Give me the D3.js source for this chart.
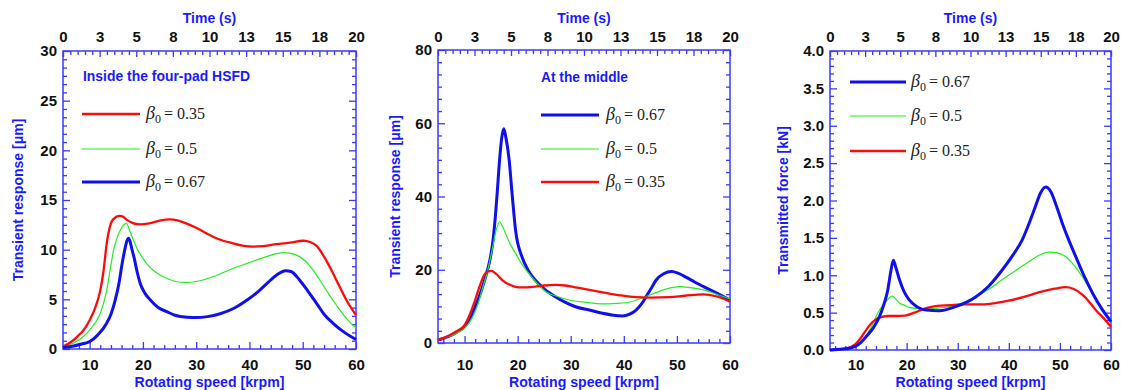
<!DOCTYPE html>
<html>
<head>
<meta charset="utf-8">
<script src="https://cdn.jsdelivr.net/npm/d3@7/dist/d3.min.js"></script>
<style>
  body { margin: 0; background: #fff; }
  svg text { font-family: "Liberation Sans", Arial, sans-serif; }
  .tick text { font-weight: bold; font-size: 15px; fill: #111; }
  .axisTitle { font-weight: bold; fill: #1a1aff; }
  .legendText { font-family: "Liberation Serif", "Times New Roman", serif; font-size: 16px; fill: #222; }
</style>
</head>
<body>
<svg id="chart" width="1121" height="390"></svg>
<script>
// shared axis values
const speedMajor = [10, 20, 30, 40, 50, 60];
const speedMinor = [6, 8, 12, 14, 16, 18, 22, 24, 26, 28, 32, 34, 36, 38, 42, 44, 46, 48, 52, 54, 56, 58];
const timeTicks = [0, 2.5, 5, 7.5, 10, 12.5, 15, 17.5, 20];
const timeLabels = ["0", "3", "5", "8", "10", "13", "15", "18", "20"];

// panel 1 : inside the four-pad HSFD (um)
const p1Red = [[5,0.25],[6.5,0.7],[7.6,1.2],[9,2.0],[10,2.9],[11,4.1],[12,5.9],[12.6,7.8],[13.2,10.6],[13.8,12.3],[14.5,13.1],[15.6,13.4],[16.3,13.3],[17,13.0],[18,12.7],[19.4,12.55],[21.2,12.65],[23,12.9],[25,13.05],[26.5,12.95],[28.1,12.65],[30,12.2],[31.9,11.65],[34,11.1],[36.9,10.64],[38.7,10.4],[40.7,10.3],[42.5,10.35],[44.4,10.5],[47.6,10.7],[50.1,10.9],[51.5,10.75],[52.6,10.38],[54,9.3],[55.7,7.6],[57,6.2],[58.2,4.93],[60,3.4]];
const p1Green = [[5,0.2],[7,0.6],[8.5,1.1],[10,1.9],[11,2.6],[12,3.6],[12.6,4.6],[13.2,5.9],[13.8,7.8],[14.5,9.97],[15.3,11.4],[16.1,12.3],[16.9,12.65],[17.6,11.8],[18.2,11],[18.9,10.1],[19.8,9.3],[20.7,8.6],[22,7.9],[23.2,7.45],[25,7.0],[27,6.72],[28.5,6.7],[30.7,6.87],[33,7.25],[36.9,8.1],[40,8.7],[43.2,9.3],[46.3,9.7],[47.5,9.65],[49.4,9.3],[51.3,8.4],[53.2,6.95],[54.8,5.6],[56.3,4.43],[58,3.2],[60,2.1]];
const p1Blue = [[5,0.12],[7,0.3],[8.5,0.5],[10,0.74],[11.5,1.4],[13.2,2.6],[14,3.5],[14.8,4.93],[15.5,6.6],[16.1,8.6],[16.6,10],[17,10.9],[17.3,11.15],[17.6,10.8],[18,9.9],[18.3,9.3],[18.9,7.8],[19.5,6.6],[20.4,5.6],[21.4,4.93],[22.8,4.2],[24.5,3.76],[26,3.4],[28.3,3.2],[30,3.17],[32.1,3.26],[34.5,3.55],[37.1,4.1],[39.5,4.9],[41.9,5.9],[43.5,6.7],[45.1,7.45],[46.8,7.88],[47.8,7.8],[49.4,6.95],[51,5.8],[52.6,4.6],[54,3.5],[55.7,2.59],[57.5,1.8],[60,0.95]];

// panel 2 : at the middle (um)
const p2Blue = [[5,0.8],[7,1.8],[8.5,2.9],[10,4.45],[11,6.6],[12,9.9],[12.8,12.8],[13.6,16.3],[14.3,19.8],[14.9,23.6],[15.4,28.5],[15.8,34.5],[16.1,40],[16.6,50],[17,56],[17.4,58.5],[17.8,56],[18.4,50],[19.0,40],[19.6,30.9],[20.8,23.6],[22,19.8],[23.3,17.2],[25,14.8],[27.1,12.65],[29,11.1],[30.9,9.9],[33.5,9],[36,8.1],[38,7.6],[39.8,7.4],[41,7.8],[42.3,9.0],[43.3,10.6],[44.2,12.65],[45.2,15.0],[46.1,17.2],[47.5,18.9],[49,19.5],[50.3,19],[51.8,17.9],[53.4,16.6],[55,15.4],[57.5,13.6],[60,11.75]];
const p2Green = [[5,0.8],[7,1.7],[8.5,2.7],[10,4.0],[11.5,7],[12.5,10.5],[13.3,14.5],[14.3,19.5],[15.2,25.4],[15.9,30.5],[16.6,33.1],[17.1,32],[17.7,30],[18.6,27],[19.6,24.5],[20.8,21.5],[22.1,19],[23.7,16.3],[25.3,14],[27.5,12.7],[29.7,11.75],[33,11.1],[36,10.66],[38.5,10.8],[41.1,11.2],[43,12],[44.9,13.1],[47,14.3],[49,15.1],[50.6,15.4],[52.5,15.1],[55,14.5],[57.5,13.3],[60,12]];
const p2Red = [[5,0.8],[7,2],[8.5,3.2],[10,4.9],[11,7.8],[12,11.75],[12.8,15.3],[13.6,18.3],[14.3,19.5],[15.1,19.7],[16,18.8],[17.1,17.2],[18.5,15.9],[20.2,15.2],[21.8,15.2],[23.3,15.4],[25,15.7],[27.1,15.85],[29,15.7],[30.9,15.2],[33.5,14.5],[36,13.85],[39,13.1],[42.3,12.5],[45,12.4],[48.6,12.5],[51.5,12.9],[55,13.3],[57.5,12.7],[60,11.3]];

// panel 3 : transmitted force (kN)
const p3Blue = [[5,0],[7,0.01],[8.5,0.02],[10,0.05],[11,0.1],[12.1,0.18],[13.5,0.3],[14.7,0.45],[15.5,0.6],[16.3,0.8],[16.9,1.05],[17.4,1.2],[17.9,1.1],[18.6,0.94],[19.5,0.78],[20.5,0.67],[22,0.58],[23.8,0.535],[26.4,0.525],[29.6,0.58],[33.5,0.71],[36,0.85],[38.7,1.07],[40.8,1.27],[42.6,1.47],[44,1.7],[45.2,1.92],[46.2,2.1],[47.2,2.18],[48.2,2.12],[49.3,1.93],[50.5,1.69],[51.8,1.46],[53.1,1.25],[54.8,0.98],[56.4,0.76],[58.2,0.55],[60,0.38]];
const p3Green = [[5,0],[8.5,0.02],[10,0.05],[11.5,0.13],[13,0.3],[14.7,0.535],[15.4,0.6],[16,0.65],[16.6,0.7],[17.2,0.72],[17.9,0.68],[18.6,0.63],[19.5,0.6],[20.5,0.57],[22,0.555],[23.8,0.55],[26,0.56],[28.4,0.58],[31,0.63],[33.5,0.71],[36,0.81],[38.7,0.94],[41.3,1.06],[43.9,1.18],[46,1.27],[47.8,1.31],[49.5,1.3],[51.1,1.25],[52.8,1.13],[54.4,0.98],[56.5,0.74],[58.3,0.55],[60,0.4]];
const p3Red = [[5,0],[8,0.02],[10,0.08],[11,0.16],[12.1,0.27],[13,0.35],[14,0.41],[15,0.44],[16.5,0.455],[18,0.455],[19.7,0.46],[21.5,0.5],[23.8,0.56],[26,0.59],[28.4,0.6],[31,0.61],[34.9,0.61],[37.5,0.63],[40,0.66],[43,0.71],[46.4,0.78],[49,0.82],[51.1,0.84],[52.6,0.82],[54.4,0.74],[55.8,0.64],[57,0.535],[58.5,0.43],[60,0.31]];

const RED = "#ff0a0a", GREEN = "#22ee22", BLUE = "#1010ee", FRAME = "#3a3aff";

const panels = [
  {
    left: 63, right: 356, top: 51, bottom: 349, yMax: 30, yStep: 5, ySub: 6, yFmt: "d",
    yTitle: "Transient response [\u03bcm]", yTitleX: 18,
    title: "Inside the four-pad HSFD", titleX: 83, titleY: 81, titleLen: 167,
    series: [
      { data: p1Green, color: GREEN, width: 1.2 },
      { data: p1Red, color: RED, width: 2.3 },
      { data: p1Blue, color: BLUE, width: 3 },
    ],
    legend: { x1: 82, x2: 140, tx: 146, items: [
      { label: "0.35", color: RED, width: 2.3, y: 114 },
      { label: "0.5", color: GREEN, width: 1.2, y: 149 },
      { label: "0.67", color: BLUE, width: 3, y: 182 },
    ] },
  },
  {
    left: 438, right: 730, top: 50, bottom: 343, yMax: 80, yStep: 20, ySub: 6, yFmt: "d",
    yTitle: "Transient response  [\u03bcm]", yTitleX: 395,
    title: "At the middle", titleX: 541, titleY: 82, titleLen: 87,
    series: [
      { data: p2Blue, color: BLUE, width: 3 },
      { data: p2Green, color: GREEN, width: 1.2 },
      { data: p2Red, color: RED, width: 2.3 },
    ],
    legend: { x1: 541, x2: 599, tx: 606, items: [
      { label: "0.67", color: BLUE, width: 3, y: 115 },
      { label: "0.5", color: GREEN, width: 1.2, y: 149 },
      { label: "0.35", color: RED, width: 2.3, y: 182 },
    ] },
  },
  {
    left: 830, right: 1111, top: 51, bottom: 350, yMax: 4, yStep: 0.5, ySub: 5, yFmt: ".1f",
    yTitle: "Transmitted force [kN]", yTitleX: 783,
    title: null,
    series: [
      { data: p3Green, color: GREEN, width: 1.2 },
      { data: p3Red, color: RED, width: 2.3 },
      { data: p3Blue, color: BLUE, width: 3 },
    ],
    legend: { x1: 850, x2: 906, tx: 911, items: [
      { label: "0.67", color: BLUE, width: 3, y: 82 },
      { label: "0.5", color: GREEN, width: 1.2, y: 116 },
      { label: "0.35", color: RED, width: 2.3, y: 151 },
    ] },
  },
];

const svg = d3.select("#chart");

function styleAxis(g) {
  g.select(".domain").remove();
  g.selectAll(".tick line").attr("stroke", FRAME).attr("stroke-width", 1.3);
}

function drawPanel(p) {
  const x = d3.scaleLinear().domain([5, 60]).range([p.left, p.right]);
  const t = d3.scaleLinear().domain([0, 20]).range([p.left, p.right]);
  const y = d3.scaleLinear().domain([0, p.yMax]).range([p.bottom, p.top]);
  const g = svg.append("g");

  const yMajor = d3.range(0, p.yMax + 1e-9, p.yStep);
  const yMinor = d3.range(0, p.yMax + 1e-9, p.yStep / p.ySub)
    .filter(v => Math.abs(v / p.yStep - Math.round(v / p.yStep)) > 1e-6);
  const timeMinor = d3.range(0, 20.01, 0.5).filter(v => !timeTicks.includes(v));

  // bottom
  g.append("g").attr("transform", `translate(0,${p.bottom})`)
    .call(d3.axisBottom(x).tickValues(speedMajor).tickSize(-7).tickPadding(359 - p.bottom).tickFormat(d3.format("d")))
    .call(styleAxis);
  g.append("g").attr("transform", `translate(0,${p.bottom})`)
    .call(d3.axisBottom(x).tickValues(speedMinor).tickSize(-4).tickFormat(""))
    .call(styleAxis);

  // top (time)
  g.append("g").attr("transform", `translate(0,${p.top})`)
    .call(d3.axisTop(t).tickValues(timeTicks).tickSize(-6).tickPadding(p.top - 42)
      .tickFormat((d, i) => timeLabels[i]))
    .call(styleAxis);
  g.append("g").attr("transform", `translate(0,${p.top})`)
    .call(d3.axisTop(t).tickValues(timeMinor).tickSize(-4).tickFormat(""))
    .call(styleAxis);

  // left
  g.append("g").attr("transform", `translate(${p.left},0)`)
    .call(d3.axisLeft(y).tickValues(yMajor).tickSize(-7).tickPadding(6).tickFormat(d3.format(p.yFmt)))
    .call(styleAxis);
  g.append("g").attr("transform", `translate(${p.left},0)`)
    .call(d3.axisLeft(y).tickValues(yMinor).tickSize(-4).tickFormat(""))
    .call(styleAxis);

  // right
  g.append("g").attr("transform", `translate(${p.right},0)`)
    .call(d3.axisRight(y).tickValues(yMajor).tickSize(-7).tickFormat(""))
    .call(styleAxis);
  g.append("g").attr("transform", `translate(${p.right},0)`)
    .call(d3.axisRight(y).tickValues(yMinor).tickSize(-4).tickFormat(""))
    .call(styleAxis);

  g.selectAll(".tick text").attr("font-family", null).attr("font-size", null);

  // frame
  g.append("rect")
    .attr("x", p.left).attr("y", p.top)
    .attr("width", p.right - p.left).attr("height", p.bottom - p.top)
    .attr("fill", "none").attr("stroke", FRAME).attr("stroke-width", 1.5);

  // curves
  const line = d3.line().x(d => x(d[0])).y(d => y(d[1])).curve(d3.curveMonotoneX);
  p.series.forEach(s => {
    g.append("path").datum(s.data)
      .attr("d", line)
      .attr("fill", "none")
      .attr("stroke", s.color)
      .attr("stroke-width", s.width)
      .attr("stroke-linejoin", "round");
  });

  // axis titles
  const cx = (p.left + p.right) / 2;
  g.append("text").attr("class", "axisTitle")
    .attr("x", cx).attr("y", 23).attr("text-anchor", "middle")
    .attr("font-size", 14).text("Time (s)");
  g.append("text").attr("class", "axisTitle")
    .attr("x", cx).attr("y", 387).attr("text-anchor", "middle")
    .attr("font-size", 14).attr("textLength", 150).attr("lengthAdjust", "spacingAndGlyphs")
    .text("Rotating speed [krpm]");
  g.append("text").attr("class", "axisTitle")
    .attr("transform", `translate(${p.yTitleX + 5},${(p.top + p.bottom) / 2}) rotate(-90)`)
    .attr("text-anchor", "middle").attr("font-size", 14)
    .text(p.yTitle);

  if (p.title) {
    g.append("text").attr("class", "axisTitle")
      .attr("x", p.titleX).attr("y", p.titleY)
      .attr("font-size", 15).attr("textLength", p.titleLen).attr("lengthAdjust", "spacingAndGlyphs")
      .text(p.title);
  }

  // legend
  p.legend.items.forEach(it => {
    g.append("line")
      .attr("x1", p.legend.x1).attr("x2", p.legend.x2)
      .attr("y1", it.y).attr("y2", it.y)
      .attr("stroke", it.color).attr("stroke-width", it.width);
    const txt = g.append("text").attr("class", "legendText")
      .attr("x", p.legend.tx).attr("y", it.y + 5);
    txt.append("tspan").attr("font-style", "italic").attr("font-size", 18).text("\u03b2");
    txt.append("tspan").attr("font-size", 12).attr("dy", 4).text("0");
    txt.append("tspan").attr("dy", -4).attr("dx", 3).text("= " + it.label);
  });
}

panels.forEach(drawPanel);
</script>
</body>
</html>
